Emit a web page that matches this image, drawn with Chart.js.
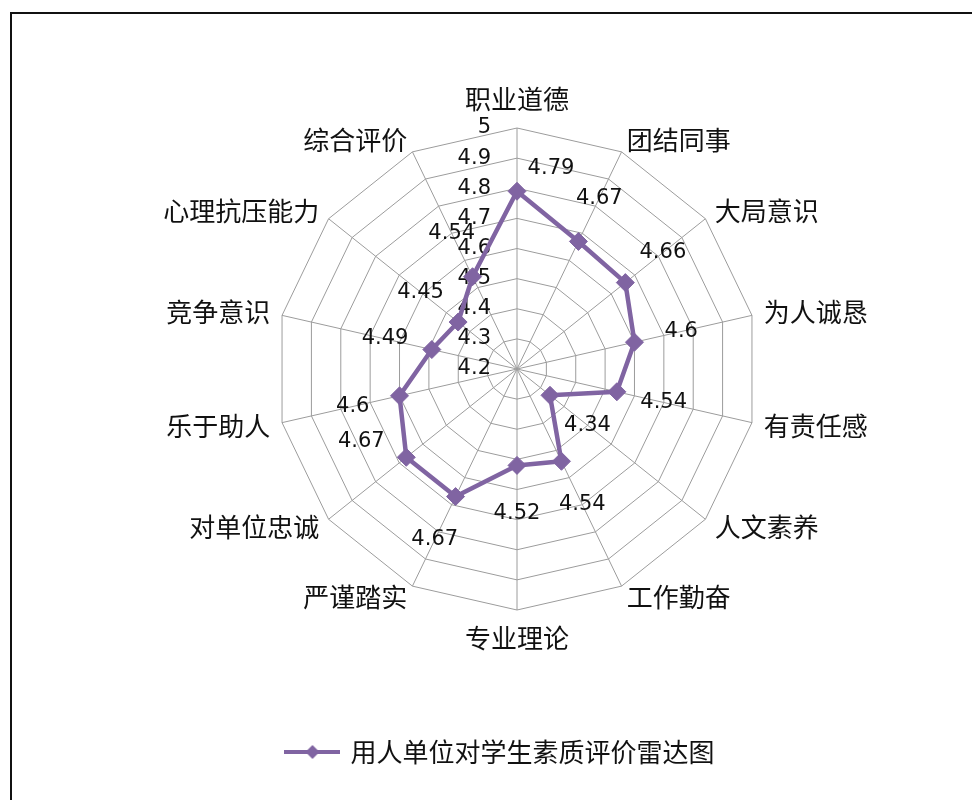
<!DOCTYPE html>
<html>
<head>
<meta charset="utf-8">
<script src="https://cdn.jsdelivr.net/npm/chart.js@4.4.1/dist/chart.umd.min.js"></script>
<style>
  html, body { margin: 0; padding: 0; background: #fff; overflow: hidden; }
  #frame { position: absolute; left: 10px; top: 12px; width: 1200px; height: 1200px;
           border-left: 2px solid #111; border-top: 2px solid #111; }
  #chart { position: absolute; left: 0; top: 0; }
</style>
</head>
<body>
<div id="frame"></div>
<canvas id="chart" width="972" height="775"></canvas>
<script>
// categories, clockwise from the top
const categories = ['职业道德', '团结同事', '大局意识', '为人诚恳', '有责任感', '人文素养', '工作勤奋',
  '专业理论', '严谨踏实', '对单位忠诚', '乐于助人', '竞争意识', '心理抗压能力', '综合评价'];
const scores = [4.79, 4.67, 4.66, 4.6, 4.54, 4.34, 4.54, 4.52, 4.67, 4.67, 4.6, 4.49, 4.45, 4.54];
const seriesName = '用人单位对学生素质评价雷达图';
const rMin = 4.2;
const rMax = 5;
const rStep = 0.1;

const purple = '#8064A2';
const textColor = '#111';
const gridColor = '#9c9c9c';
const cjk = '"Noto Sans CJK SC", "Noto Sans", sans-serif';
const numFont = '21px "DejaVu Sans", sans-serif';

// legend marker: line with a diamond, like Excel
const legendIcon = document.createElement('canvas');
legendIcon.width = 56;
legendIcon.height = 18;
const ic = legendIcon.getContext('2d');
ic.strokeStyle = purple;
ic.lineWidth = 4;
ic.beginPath(); ic.moveTo(0, 9); ic.lineTo(56, 9); ic.stroke();
ic.fillStyle = purple;
ic.beginPath(); ic.moveTo(21, 9); ic.lineTo(28, 2); ic.lineTo(35, 9); ic.lineTo(28, 16); ic.closePath(); ic.fill();

// a couple of labels were moved by hand in the original
const nudge = { 0: [34, -23], 9: [-45, -16] };

const labelsPlugin = {
  id: 'labelsPlugin',
  beforeDatasetsDraw(chart) {
    const ctx = chart.ctx;
    const scale = chart.scales.r;
    ctx.save();
    ctx.font = numFont;
    ctx.fillStyle = textColor;
    ctx.textAlign = 'right';
    ctx.textBaseline = 'middle';
    scale.ticks.forEach(t => {
      const d = scale.getDistanceFromCenterForValue(t.value);
      ctx.fillText(t.label, scale.xCenter - 26, scale.yCenter - d);
    });
    ctx.restore();
  },
  afterDatasetsDraw(chart) {
    const ctx = chart.ctx;
    const scale = chart.scales.r;
    const meta = chart.getDatasetMeta(0);
    ctx.save();
    ctx.font = numFont;
    ctx.fillStyle = textColor;
    ctx.textAlign = 'center';
    ctx.textBaseline = 'middle';
    meta.data.forEach((pt, i) => {
      const a = scale.getIndexAngle(i);
      let dx = Math.sin(a) * 48;
      let dy = -Math.cos(a) * 48;
      if (nudge[i]) { dx = nudge[i][0]; dy = nudge[i][1]; }
      ctx.fillText(String(scores[i]), pt.x + dx, pt.y + dy);
    });
    ctx.restore();
  }
};

new Chart(document.getElementById('chart'), {
  type: 'radar',
  data: {
    labels: categories,
    datasets: [{
      label: seriesName,
      data: scores,
      borderColor: purple,
      backgroundColor: 'rgba(0,0,0,0)',
      borderWidth: 4.5,
      borderJoinStyle: 'round',
      fill: false,
      pointStyle: 'rectRot',
      pointRadius: 9,
      pointBorderWidth: 1,
      pointBackgroundColor: purple,
      pointBorderColor: purple
    }]
  },
  options: {
    responsive: false,
    animation: false,
    layout: { padding: { top: 99, left: 30, right: 0, bottom: 0 } },
    scales: {
      r: {
        min: rMin,
        max: rMax,
        ticks: { display: false, stepSize: rStep, callback: (v) => String(+v.toFixed(1)) },
        grid: { color: gridColor, lineWidth: 1 },
        angleLines: { color: gridColor, lineWidth: 1 },
        pointLabels: {
          color: textColor,
          font: { family: cjk, size: 26, lineHeight: '1px' },
          padding: (c) => (c.index === 0 || c.index === categories.length / 2) ? 28 : 12
        },
        afterSetDimensions: (s) => { s.xCenter += 16; }
      }
    },
    plugins: {
      tooltip: { enabled: false },
      legend: {
        position: 'bottom',
        labels: {
          usePointStyle: true,
          pointStyle: legendIcon,
          pointStyleWidth: 50,
          padding: 99,
          color: textColor,
          font: { family: cjk, size: 26 }
        }
      }
    }
  },
  plugins: [labelsPlugin]
});
</script>
</body>
</html>
